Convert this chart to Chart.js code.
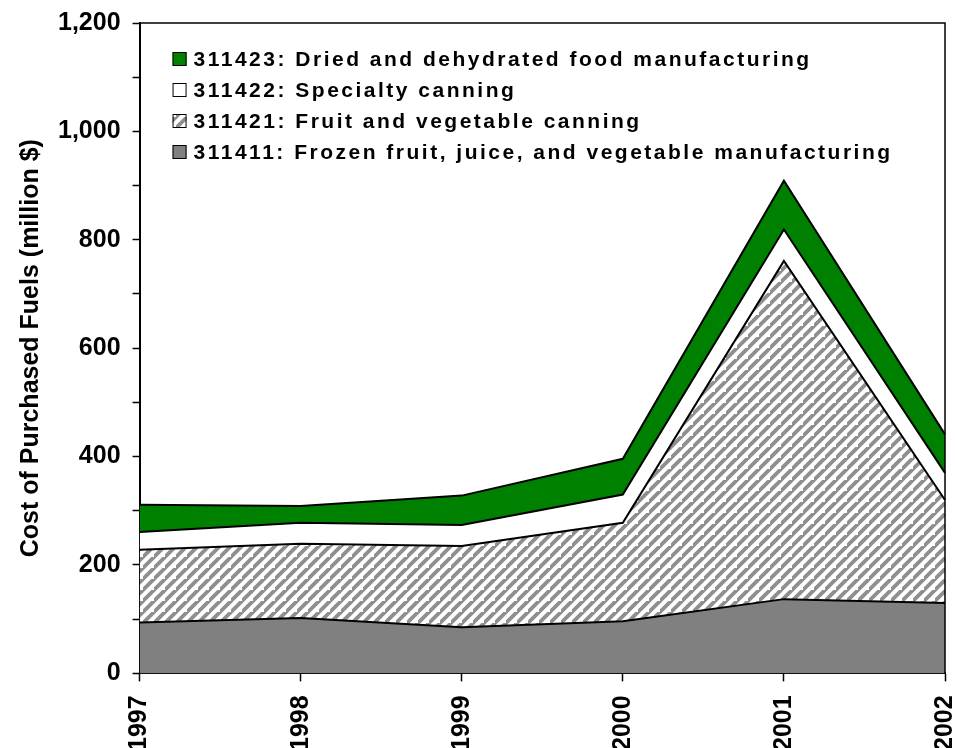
<!DOCTYPE html>
<html>
<head>
<meta charset="utf-8">
<script src="https://cdn.jsdelivr.net/npm/chart.js@4/dist/chart.umd.min.js"></script>
<style>
  body { margin: 0; overflow: hidden; background: #fff; }
  #wrap { width: 989px; height: 769px; margin-top: -4px; position: relative; }
</style>
</head>
<body>
<div id="wrap"><canvas id="chart"></canvas></div>
<script>
const years = ['1997', '1998', '1999', '2000', '2001', '2002'];
const frozenValues = [94, 102, 85, 96, 137, 130];
const fruitValues = [134, 137, 150, 182, 624, 190];
const specialtyValues = [33, 39, 39, 52, 58, 50];
const driedValues = [50, 31, 54, 66, 90, 71];
const seriesLabels = [
    '311411: Frozen fruit, juice, and vegetable manufacturing',
    '311421: Fruit and vegetable canning',
    '311422: Specialty canning',
    '311423: Dried and dehydrated food manufacturing'
];

const fontFamily = '"Liberation Sans", Arial, sans-serif';

// diagonal stripes for the canning series
function makeHatch() {
    const size = 11;
    const c = document.createElement('canvas');
    c.width = size;
    c.height = size;
    const g = c.getContext('2d');
    g.fillStyle = '#fff';
    g.fillRect(0, 0, size, size);
    g.strokeStyle = '#8f8f8f';
    g.lineWidth = 3.8;
    g.beginPath();
    g.moveTo(-2, size + 2); g.lineTo(size + 2, -2);
    g.moveTo(-2 - size, size + 2); g.lineTo(2, -2);
    g.moveTo(size - 2, 2 * size + 2); g.lineTo(2 * size + 2, size - 2);
    g.stroke();
    return g.createPattern(c, 'repeat');
}
const hatch = makeHatch();

const legendInside = {
    id: 'legendInside',
    afterDraw(chart) {
        const ctx = chart.ctx;
        const area = chart.chartArea;
        const sets = chart.data.datasets.slice().reverse();
        ctx.save();
        ctx.font = 'bold 21px ' + fontFamily;
        ctx.letterSpacing = '2.5px';
        ctx.textBaseline = 'middle';
        sets.forEach((ds, i) => {
            const y = area.top + 36 + i * 31;
            const x = area.left + 33;
            ctx.fillStyle = ds.backgroundColor;
            ctx.fillRect(x, y - 7, 14, 14);
            ctx.strokeStyle = '#000';
            ctx.lineWidth = 1;
            ctx.strokeRect(x + 0.5, y - 6.5, 13, 13);
            ctx.fillStyle = '#000';
            ctx.fillText(ds.label, x + 21, y + 1);
        });
        ctx.restore();
    }
};

const frame = {
    id: 'frame',
    afterDatasetsDraw(chart) {
        const ctx = chart.ctx;
        const a = chart.chartArea;
        ctx.save();
        ctx.strokeStyle = '#000';
        ctx.lineWidth = 1.5;
        ctx.beginPath();
        ctx.moveTo(a.left, a.top);
        ctx.lineTo(a.right, a.top);
        ctx.lineTo(a.right, a.bottom);
        ctx.stroke();
        ctx.restore();
    }
};

function areaSet(label, data, bg, fill) {
    return {
        label: label,
        data: data,
        backgroundColor: bg,
        borderColor: '#000',
        borderWidth: 2,
        pointRadius: 0,
        tension: 0,
        fill: fill
    };
}

new Chart(document.getElementById('chart'), {
    type: 'line',
    data: {
        labels: years,
        datasets: [
            areaSet(seriesLabels[0], frozenValues, '#808080', 'origin'),
            areaSet(seriesLabels[1], fruitValues, hatch, '-1'),
            areaSet(seriesLabels[2], specialtyValues, '#ffffff', '-1'),
            areaSet(seriesLabels[3], driedValues, '#008000', '-1')
        ]
    },
    options: {
        responsive: true,
        maintainAspectRatio: false,
        animation: false,
        layout: { padding: { top: 2, right: 0, left: 2, bottom: 0 } },
        plugins: {
            legend: { display: false },
            tooltip: { enabled: false }
        },
        scales: {
            x: {
                offset: false,
                z: 1,
                border: { color: '#000', width: 2 },
                grid: { drawOnChartArea: false, tickLength: 8, tickColor: '#000', tickWidth: 1.5 },
                ticks: {
                    color: '#000',
                    maxRotation: 90,
                    minRotation: 90,
                    padding: 14,
                    font: { family: fontFamily, size: 25, weight: 'bold' }
                }
            },
            y: {
                stacked: true,
                min: 0,
                max: 1200,
                z: 1,
                border: { color: '#000', width: 2 },
                grid: { drawOnChartArea: false, tickLength: 7, tickColor: '#000', tickWidth: 1.5 },
                ticks: {
                    color: '#000',
                    stepSize: 100,
                    padding: 12,
                    font: { family: fontFamily, size: 25, weight: 'bold' },
                    callback: (v) => v % 200 === 0 ? v.toLocaleString('en-US') : ''
                },
                title: {
                    display: true,
                    text: 'Cost of Purchased Fuels (million $)',
                    color: '#000',
                    padding: { top: 14, bottom: 0 },
                    font: { family: fontFamily, size: 25, weight: 'bold' }
                }
            }
        }
    },
    plugins: [legendInside, frame]
});
</script>
</body>
</html>
